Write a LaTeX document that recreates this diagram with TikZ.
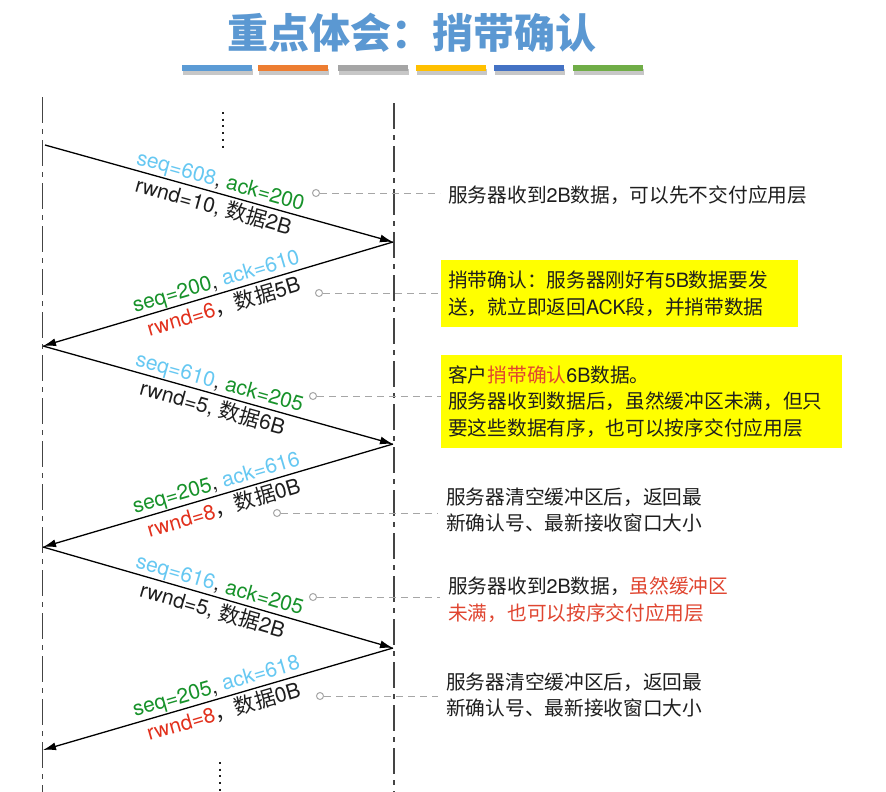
\documentclass[tikz,border=0pt]{standalone}
\usepackage{fontspec}
\setmainfont{Noto Sans CJK SC}
\newfontfamily\hv{TeX Gyre Heros}
\newfontfamily\cjk{Noto Sans CJK SC}
\usetikzlibrary{arrows.meta,calc}
\definecolor{titleblue}{HTML}{5B98D2}
\definecolor{barA}{HTML}{5B9BD5}
\definecolor{barB}{HTML}{ED7D31}
\definecolor{barC}{HTML}{A5A5A5}
\definecolor{barD}{HTML}{FFC000}
\definecolor{barE}{HTML}{4472C4}
\definecolor{barF}{HTML}{70AD47}
\definecolor{seqblue}{HTML}{66C8F2}
\definecolor{ackgreen}{HTML}{17922A}
\definecolor{rwred}{HTML}{E2301C}
\definecolor{notered}{HTML}{E04530}
\definecolor{txt}{HTML}{1E1E1E}
\definecolor{leadgray}{HTML}{A6A6A6}
\definecolor{lifegray}{HTML}{444444}
\definecolor{boxyellow}{HTML}{FFFF00}
\begin{document}
\begin{tikzpicture}[x=1pt,y=-1pt,
  lifeline/.style={draw=lifegray,line width=1.6pt,dash pattern=on 26pt off 6pt on 5pt off 6pt},
  msg/.style={draw=black,line width=1.3pt,-{Latex[length=13pt,width=8pt]}},
  lbl/.style={sloped,inner sep=0pt,text=txt,font=\hv\fontsize{21}{25}\selectfont},
  toplbl/.style={lbl,anchor=base,yshift=6pt,pos=0.495},
  botlbl/.style={lbl,anchor=base,yshift=-21pt,pos=0.495},
  note/.style={anchor=west,align=left,inner xsep=8pt,inner ysep=0pt,text=txt,font=\fontsize{19.7}{26.5}\selectfont},
  ybox/.style={anchor=west,align=left,fill=boxyellow,inner xsep=7pt,inner ysep=0pt,text=txt,font=\fontsize{19.7}{26.8}\selectfont},
  leader/.style={draw=leadgray,line width=1pt,dash pattern=on 7pt off 5pt},
  dotc/.style={circle,draw=leadgray,fill=white,line width=1pt,inner sep=0pt,minimum size=7pt},
  ellip/.style={draw=txt,line width=2pt,dash pattern=on 2pt off 4.7pt},
  barshadow/.style={fill=black,opacity=0.22,draw=none}
]
\useasboundingbox[fill=white] (0,0) rectangle (886,792);

% title
\node[text=titleblue,font=\fontsize{41}{41}\selectfont\bfseries] (title) at (412,33) {重点体会：捎带确认};

% colour bars
\foreach \xa/\c in {182/barA,258/barB,338/barC,416/barD,494/barE,573/barF}{
  \fill[barshadow] (\xa+1,69) rectangle (\xa+71,75);
  \fill[\c] (\xa,65.5) rectangle (\xa+70,71.5);
}

% lifelines
\coordinate (LT) at (42.5,97);
\coordinate (LB) at (42.5,792);
\coordinate (RT) at (394,103);
\coordinate (RB) at (394,792);
\draw[lifeline] (LT) -- (LB);
\draw[lifeline] (RT) -- (RB);

% ellipses
\coordinate (d1a) at (223,112);
\coordinate (d1b) at (223,149);
\coordinate (d2a) at (220,762);
\coordinate (d2b) at (220,795);
\draw[ellip] (d1a) -- (d1b);
\draw[ellip] (d2a) -- (d2b);

% message end points
\coordinate (L1) at (45,145);
\coordinate (R1) at (393,242);
\coordinate (L2) at (43,346);
\coordinate (R2) at (393,444);
\coordinate (L3) at (43,547);
\coordinate (R3) at (393,648);
\coordinate (L4) at (43,750);

\draw[msg] (L1) -- node[toplbl] (m1a) {{\color{seqblue}seq=608}, {\color{ackgreen}ack=200}}
                   node[botlbl] (m1b) {rwnd=10, {\cjk 数据}2B} (R1);
\draw[msg] (R1) -- node[toplbl] (m2a) {{\color{ackgreen}seq=200}, {\color{seqblue}ack=610}}
                   node[botlbl] (m2b) {{\color{rwred}rwnd=6}{\cjk ，数据}5B} (L2);
\draw[msg] (L2) -- node[toplbl] (m3a) {{\color{seqblue}seq=610}, {\color{ackgreen}ack=205}}
                   node[botlbl] (m3b) {rwnd=5, {\cjk 数据}6B} (R2);
\draw[msg] (R2) -- node[toplbl] (m4a) {{\color{ackgreen}seq=205}, {\color{seqblue}ack=616}}
                   node[botlbl] (m4b) {{\color{rwred}rwnd=8}{\cjk ，数据}0B} (L3);
\draw[msg] (L3) -- node[toplbl] (m5a) {{\color{seqblue}seq=616}, {\color{ackgreen}ack=205}}
                   node[botlbl] (m5b) {rwnd=5, {\cjk 数据}2B} (R3);
\draw[msg] (R3) -- node[toplbl] (m6a) {{\color{ackgreen}seq=205}, {\color{seqblue}ack=618}}
                   node[botlbl] (m6b) {{\color{rwred}rwnd=8}{\cjk ，数据}0B} (L4);

% annotations
\node[note] (a1) at (440,195) {服务器收到{\hv 2B}数据，可以先不交付应用层};
\node[ybox,text width=343pt,minimum height=67pt] (a2) at (441,293.5) {捎带确认：服务器刚好有{\hv 5B}数据要发\\送，就立即返回{\hv ACK}段，并捎带数据};
\node[ybox,text width=387pt,minimum height=93pt] (a3) at (441,401.5) {客户{\color{notered}捎带确认}{\hv 6B}数据。\\服务器收到数据后，虽然缓冲区未满，但只\\要这些数据有序，也可以按序交付应用层};
\node[note] (a4) at (438,510) {服务器清空缓冲区后，返回最\\新确认号、最新接收窗口大小};
\node[note] (a5) at (440,599.5) {服务器收到{\hv 2B}数据，{\color{notered}虽然缓冲区}\\{\color{notered}未满，也可以按序交付应用层}};
\node[note] (a6) at (438,695) {服务器清空缓冲区后，返回最\\新确认号、最新接收窗口大小};

% leaders
\node[dotc] (c1) at (316,193) {};
\node[dotc] (c2) at (319,293) {};
\node[dotc] (c3) at (313,396) {};
\node[dotc] (c4) at (277,513) {};
\node[dotc] (c5) at (313,597) {};
\node[dotc] (c6) at (320,696) {};
\draw[leader] (c1.east) -- (c1.east -| a1.west);
\draw[leader] (c2.east) -- (c2.east -| a2.west);
\draw[leader] (c3.east) -- (c3.east -| a3.west);
\draw[leader] (c4.east) -- (c4.east -| a4.west);
\draw[leader] (c5.east) -- (c5.east -| a5.west);
\draw[leader] (c6.east) -- (c6.east -| a6.west);
\end{tikzpicture}
\end{document}
